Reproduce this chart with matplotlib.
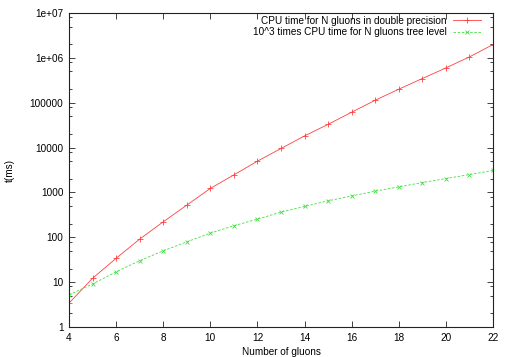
import matplotlib
matplotlib.use("Agg")
import matplotlib.pyplot as plt
from matplotlib.ticker import FixedLocator, LogLocator, NullFormatter

plt.rcParams['font.family'] = ['Liberation Sans', 'DejaVu Sans']
plt.rcParams['font.size'] = 7.2

# Data
n_gluons = [4, 5, 6, 7, 8, 9, 10, 11, 12, 13, 14, 15, 16, 17, 18, 19, 20, 21, 22]
cpu_double = [3.4, 12.2, 34, 91, 221, 521, 1228, 2460, 4980, 9540, 18200,
              33000, 61400, 113700, 200000, 346000, 597000, 1050000, 1980000]
cpu_tree_x1e3 = [5.2, 9.1, 17, 30, 50, 79, 124, 181, 254, 364, 487,
                 649, 835, 1066, 1330, 1660, 2040, 2500, 3090]
label_double = "CPU time for N gluons in double precision"
label_tree = "10^3 times CPU time for N gluons tree level"
x_ticks = [4, 6, 8, 10, 12, 14, 16, 18, 20, 22]
y_ticks = [1, 10, 100, 1000, 10000, 100000, 1e6, 1e7]
y_ticklabels = ["1", "10", "100", "1000", "10000", "100000", "1e+06", "1e+07"]

fig = plt.figure(figsize=(5.10, 3.57), dpi=100)
W, H = 510, 357
L, R, T, B = 69, 493, 13, 327
ax = fig.add_axes([L / W, 1 - B / H, (R - L) / W, (B - T) / H])

ax.plot(n_gluons, cpu_double, color='#ff4040', lw=0.6, marker='+', ms=4,
        mew=0.6, label=label_double)
ax.plot(n_gluons, cpu_tree_x1e3, color='#40e040', lw=0.6, ls=(0, (3, 2)),
        marker='x', ms=3.5, mew=0.6, label=label_tree)

ax.set_yscale('log')
ax.set_xlim(4, 22)
ax.set_ylim(1, 1e7)
ax.xaxis.set_major_locator(FixedLocator(x_ticks))
ax.yaxis.set_major_locator(FixedLocator(y_ticks))
ax.set_yticklabels(y_ticklabels)
ax.yaxis.set_minor_locator(LogLocator(base=10, subs=[2, 5, 8]))
ax.yaxis.set_minor_formatter(NullFormatter())

ax.tick_params(which='both', direction='in', top=True, right=True,
               width=0.6, colors='#222222', labelcolor='black')
ax.tick_params(which='major', length=4, pad=4)
ax.tick_params(which='minor', length=2.5)
for s in ax.spines.values():
    s.set_linewidth(0.8)
    s.set_color('#222222')

ax.set_xlabel("Number of gluons", labelpad=3)
ax.set_ylabel("t(ms)", labelpad=11)

leg = ax.legend(loc='upper right', markerfirst=False, frameon=False,
                bbox_to_anchor=(1 - 12 / 424, 1 - 2.5 / 314),
                borderaxespad=0, borderpad=0, handlelength=2.8,
                handletextpad=0.6, labelspacing=0.15, fontsize=7.2)

fig.savefig("out.png", dpi=100)
